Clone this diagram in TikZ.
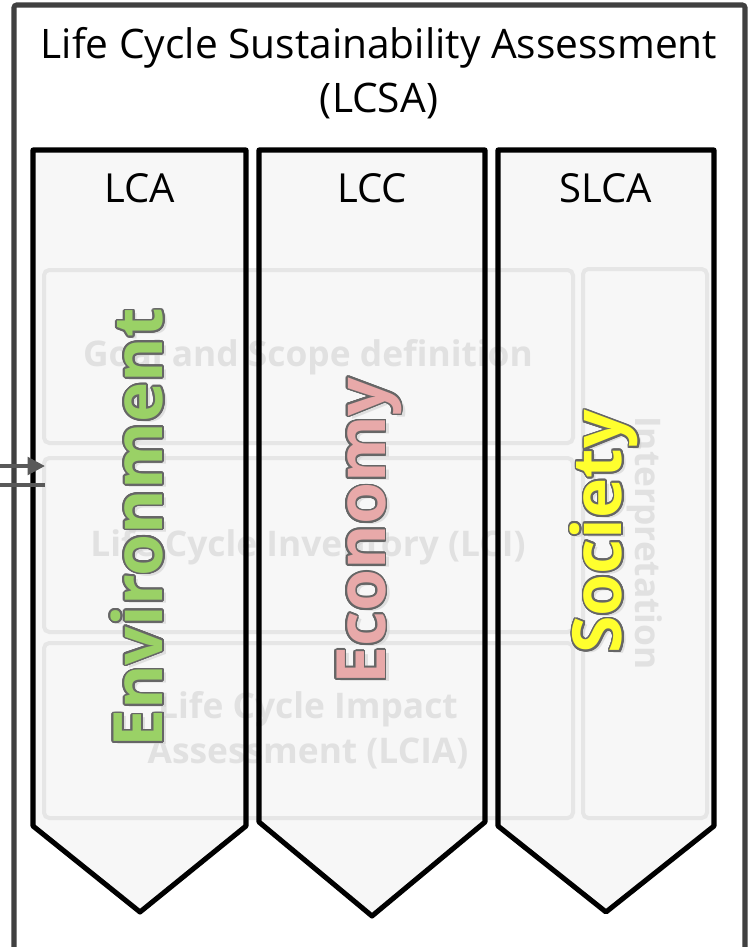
\documentclass[tikz,border=0pt]{standalone}
\usepackage{fontspec}
\setmainfont{Open Sans}
\usepackage[copies]{contour}
\contournumber{24}
\usetikzlibrary{arrows.meta}
\definecolor{framec}{HTML}{404040}
\definecolor{chevfill}{HTML}{F7F7F7}
\definecolor{boxline}{HTML}{E6E6E6}
\definecolor{boxtext}{HTML}{E1E1E1}
\definecolor{outl}{HTML}{666666}
\definecolor{envgreen}{HTML}{9AD166}
\definecolor{ecopink}{HTML}{E8A9A9}
\definecolor{socyellow}{HTML}{FFFF2E}
\definecolor{arrowc}{HTML}{595959}
\definecolor{shadowc}{HTML}{D0D0D0}
\tikzset{
  chevfillst/.style={fill=chevfill},
  chevline/.style={draw=black, line width=3.8pt, line join=round},
  phase/.style={draw=boxline, fill=chevfill, line width=3pt, rounded corners=4pt},
  phasetext/.style={text=boxtext, font=\fontsize{26.5}{34}\selectfont\bfseries, align=center},
  head/.style={font=\fontsize{30}{36}\selectfont, text=black},
  bigword/.style={font=\fontsize{51}{60}\selectfont\bfseries, rotate=90},
}
\begin{document}
\begin{tikzpicture}[x=0.75pt,y=-0.75pt]
\useasboundingbox (0,0) rectangle (753,947);
\begin{scope}
\clip (0,0) rectangle (753,947);
\fill[white] (0,0) rectangle (753,947);
\draw[framec, line width=3.8pt, rounded corners=2pt] (14,980) -- (14,5) -- (745,5) -- (745,980);
\end{scope}
% title
\node[font=\fontsize{30.5}{40}\selectfont, align=center] (title) at (379,73) {Life Cycle Sustainability Assessment\\(LCSA)};
% chevron fills
\fill[chevfillst] (33,150) -- (246,150) -- (246,826) -- (140,912) -- (33,826) -- cycle;
\fill[chevfillst] (259,150) -- (485,150) -- (485,822) -- (372,916) -- (259,822) -- cycle;
\fill[chevfillst] (498,150) -- (714,150) -- (714,826) -- (606,912) -- (498,826) -- cycle;
% phase boxes
\draw[phase] (44,270) rectangle (573,443);
\draw[phase] (44,458) rectangle (573,632);
\draw[phase] (44,643) rectangle (573,818);
\draw[phase] (583,269) rectangle (707,818);
\node[phasetext] (goal) at (308,357) {Goal and Scope definition};
\node[phasetext] (lci) at (308,547) {Life Cycle Inventory (LCI)};
\node[phasetext] (lcia) at (308,730) {Life Cycle Impact\\Assessment (LCIA)};
\node[phasetext, rotate=-90] (interp) at (645,543) {Interpretation};
% chevron outlines
\draw[chevline] (33,150) -- (246,150) -- (246,826) -- (140,912) -- (33,826) -- cycle;
\draw[chevline] (259,150) -- (485,150) -- (485,822) -- (372,916) -- (259,822) -- cycle;
\draw[chevline] (498,150) -- (714,150) -- (714,826) -- (606,912) -- (498,826) -- cycle;
% headers
\node[head] (lca) at (140,188) {LCA};
\node[head] (lcc) at (372,188) {LCC};
\node[head] (slca) at (606,188) {SLCA};
% big words: shadows
\node[bigword, text=shadowc, opacity=0.6] (envs) at (141,531) {Environment};
\node[bigword, text=shadowc, opacity=0.6] (ecos) at (373,534) {Economy};
\node[bigword, text=shadowc, opacity=0.6] (socs) at (608,535) {Society};
% big words
\contourlength{1.3pt}
\node[bigword, text=envgreen] (env) at (138,528) {\contour{outl}{Environment}};
\node[bigword, text=ecopink] (eco) at (370,531) {\contour{outl}{Economy}};
\node[bigword, text=socyellow] (soc) at (605,532) {\contour{outl}{Society}};
% left stubs
\coordinate (a1) at (0,466);
\coordinate (a2) at (45,466);
\coordinate (b1) at (0,485);
\coordinate (b2) at (45,485);
\draw[arrowc, line width=3pt, -{Triangle[length=13pt,width=13pt]}] (a1) -- (a2);
\draw[arrowc, line width=3pt] (b1) -- (b2);
\end{tikzpicture}
\end{document}
